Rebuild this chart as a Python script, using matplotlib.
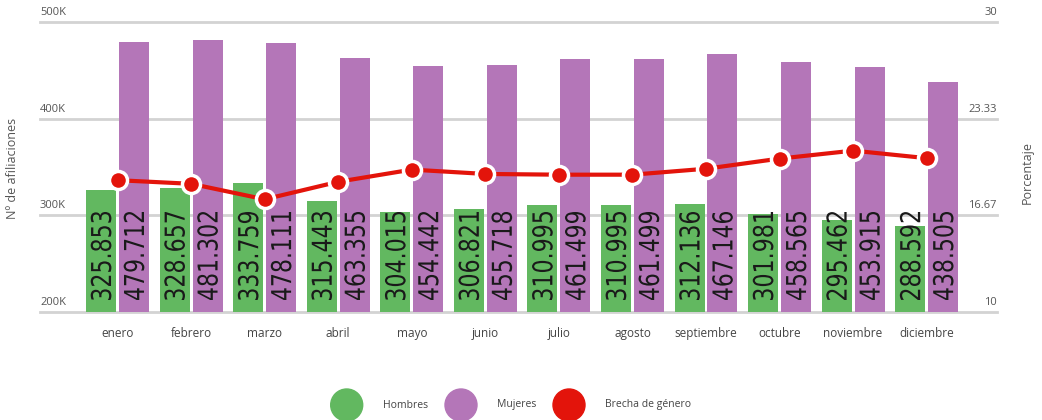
import matplotlib
matplotlib.use("Agg")
import matplotlib.pyplot as plt
import matplotlib.patches as mpatches
from matplotlib.textpath import TextPath
from matplotlib.font_manager import FontProperties
from matplotlib.transforms import Affine2D, IdentityTransform
import numpy as np

meses = ["enero", "febrero", "marzo", "abril", "mayo", "junio", "julio",
         "agosto", "septiembre", "octubre", "noviembre", "diciembre"]
hombres = [325853, 328657, 333759, 315443, 304015, 306821, 310995,
           310995, 312136, 301981, 295462, 288592]
mujeres = [479712, 481302, 478111, 463355, 454442, 455718, 461499,
           461499, 467146, 458565, 453915, 438505]
brecha = [19.10, 18.85, 17.78, 18.99, 19.83, 19.53, 19.48,
          19.48, 19.89, 20.59, 21.14, 20.62]
ticks_izq = [200000, 300000, 400000, 500000]
ticks_izq_lab = ["200K", "300K", "400K", "500K"]
ticks_der = [10, 16.67, 23.33, 30]
ticks_der_lab = ["10", "16.67", "23.33", "30"]

VERDE = "#62b860"
MORADO = "#b476b8"
ROJO = "#e3140b"
GRIS = "#555555"

plt.rcParams["font.family"] = ["Open Sans", "DejaVu Sans"]

W, H = 1042, 420
fig = plt.figure(figsize=(W / 100, H / 100), dpi=100)
x0, x1, ytop, ybot = 40, 997, 22.3, 312
ax = fig.add_axes([x0 / W, 1 - ybot / H, (x1 - x0) / W, (ybot - ytop) / H])
ax2 = ax.twinx()

x = np.arange(len(meses))
bw = 0.408
off = 0.224
ax.bar(x - off, hombres, bw, color=VERDE, zorder=2)
ax.bar(x + off, mujeres, bw, color=MORADO, zorder=2)

ax.set_xlim(-1.054, 11.956)
ax.set_ylim(200000, 500000)
ax2.set_ylim(10, 30)

# etiquetas de valor: texto vertical algo condensado (como en el original)
fp = FontProperties(family="DejaVu Sans")
for i in range(len(meses)):
    for xi, v in ((x[i] - off, hombres[i]), (x[i] + off, mujeres[i])):
        s = f"{v:,}".replace(",", ".")
        tp = TextPath((0, 0), s, size=27.4, prop=fp)
        ext = tp.get_extents()
        px, py = ax.transData.transform((xi, 200000))
        tr = (Affine2D().translate(-ext.x0, -(ext.y0 + ext.y1) / 2)
              .scale(88 / ext.width, 1.0).rotate_deg(90)
              .translate(px, py + 12))
        fig.add_artist(mpatches.PathPatch(tp, transform=tr, fc="#1a1a1a",
                                          ec="none", zorder=5))

for t in ticks_izq:
    ax.axhline(t, color="#d3d3d3", lw=2, zorder=1, clip_on=False)

for sp in list(ax.spines.values()) + list(ax2.spines.values()):
    sp.set_visible(False)
ax.set_yticks([])
ax2.set_yticks([])
ax.set_xticks(x)
ax.set_xticklabels(meses, fontsize=8.5, color="#444444")
ax.tick_params(axis="x", length=0, pad=11)

for t, lab in zip(ticks_izq, ticks_izq_lab):
    ax.annotate(lab, (0, t), xycoords=("axes fraction", "data"),
                xytext=(0, 3), textcoords="offset points",
                ha="left", va="bottom", fontsize=8, color=GRIS)
for t, lab in zip(ticks_der, ticks_der_lab):
    ax2.annotate(lab, (1, t), xycoords=("axes fraction", "data"),
                 xytext=(0, 3), textcoords="offset points",
                 ha="right", va="bottom", fontsize=8, color=GRIS)

ax2.plot(x, brecha, color=ROJO, lw=3, marker="o", markersize=13,
         markerfacecolor=ROJO, markeredgecolor="white", markeredgewidth=2.5,
         zorder=4)

fig.text(13 / W, 1 - 168 / H, "Nº de afiliaciones", rotation=90,
         ha="center", va="center", fontsize=9, color=GRIS)
fig.text(1027 / W, 1 - 173 / H, "Porcentaje", rotation=90,
         ha="center", va="center", fontsize=9, color=GRIS)

# leyenda
lg = fig.add_axes([0, 0, 1, 1])
lg.set_xlim(0, W)
lg.set_ylim(H, 0)
lg.axis("off")
for cx, tx, col, lab in ((346.7, 383.3, VERDE, "Hombres"),
                         (461.0, 496.7, MORADO, "Mujeres"),
                         (569.0, 605.0, ROJO, "Brecha de género")):
    lg.add_patch(mpatches.Circle((cx, 405), 16, color=col))
    lg.text(tx, 405, lab, ha="left", va="center", fontsize=7.5, color="#444444")

fig.savefig("out.png", dpi=100)
